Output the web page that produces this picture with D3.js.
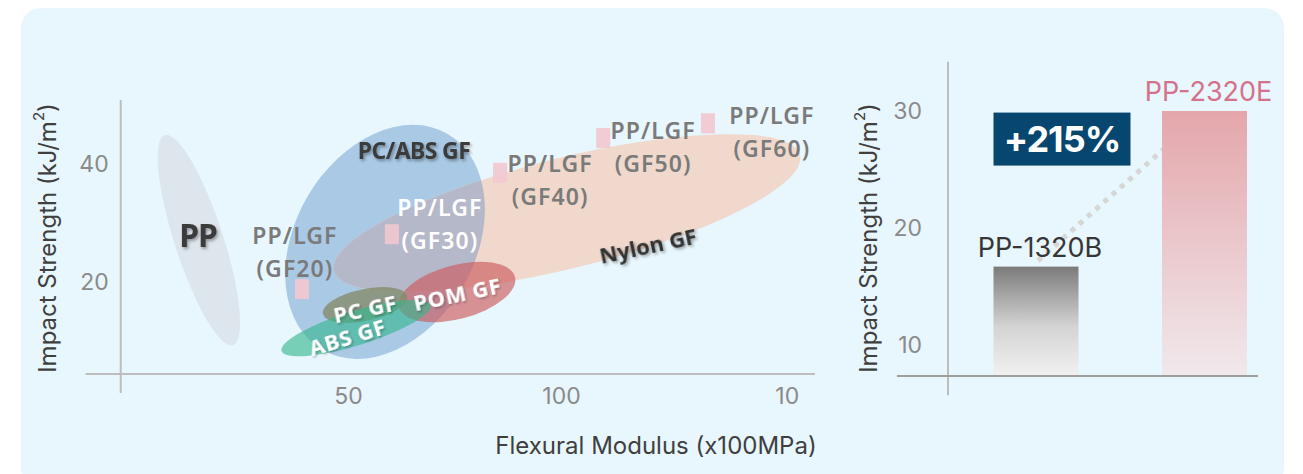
<!DOCTYPE html>
<html><head><meta charset="utf-8">
<script src="https://cdn.jsdelivr.net/npm/d3@7"></script>
<style>
html,body{margin:0;padding:0;background:#fff;}
svg{display:block;}
</style></head><body>
<svg id="chart" width="1303" height="474"></svg>
<script>
// ================= DATA =================
// Left chart: flexural modulus (x100MPa) vs impact strength (kJ/m2)
const leftXTicks = [50, 100, 153];
const leftXTickLabels = ["50", "100", "10"];
const leftYTicks = [20, 40];
const leftYTickLabels = ["20", "40"];

const gradeNames = ["GF20", "GF30", "GF40", "GF50", "GF60"];
const gradeModulus = [39.2, 60.3, 85.7, 109.9, 134.5];
const gradeImpact = [18.8, 28.1, 38.5, 44.4, 46.9];

const regionNames = ["PP", "PC/ABS GF", "Nylon GF", "POM GF", "PC GF", "ABS GF"];
const regionCenterModulus = [15.0, 58.7, 101.4, 75.6, 54.0, 51.9];
const regionCenterImpact = [27.1, 26.8, 31.7, 18.3, 16.1, 12.2];
const regionEndModulus = [7.0, 73.4, 156.1, 89.2, 63.9, 69.4];
const regionEndImpact = [44.9, 45.1, 41.5, 20.9, 17.6, 16.1];
const regionLabelModulus = [14.8, 65.5, 120.4, 75.6, 54.0, 49.8];
const regionLabelImpact = [28.0, 42.4, 26.3, 18.1, 15.6, 10.8];

// Right chart
const productNames = ["PP-1320B", "PP-2320E"];
const productImpact = [16.7, 30];
const rightYTicks = [10, 20, 30];
const increaseLabel = "+215%";

// ================= STYLE =================
const bg = "#e8f6fd";
const axisColor = "#bdbdbd";
const tickColor = "#8a8a8a";
const titleColor = "#3f3f3f";
const tickFont = "Inter, 'Noto Sans', sans-serif";
const labelFont = "'Noto Sans', 'Open Sans', sans-serif";

const regionStyle = {
  "PP":        {ryRatio: 0.22, fill: "#dde5ed", op: 1,    label: "#3b3b3b", size: 32, rot: 0,   ls: -1},
  "PC/ABS GF": {ryRatio: 0.72, fill: "#a9c9e5", op: 1,    label: "#3b3b3b", size: 23, rot: 0,   ls: -0.6},
  "Nylon GF":  {ryRatio: 0.23, fill: "#f0d9cc", op: 1,    label: "#333333", size: 22, rot: -12, ls: 0},
  "POM GF":    {ryRatio: 0.45, fill: "#cc5a5e", op: 0.65, label: "#ffffff", size: 22, rot: -12, ls: 0.6},
  "PC GF":     {ryRatio: 0.37, fill: "#848c6c", op: 0.8,  label: "#ffffff", size: 22, rot: -12, ls: 0.6},
  "ABS GF":    {ryRatio: 0.22, fill: "#34b68e", op: 0.62, label: "#ffffff", size: 22, rot: -17, ls: 0.6}
};
const overlapFill = "#b5b8c9";
// point label offsets (px) relative to marker
const gradeLabelOffset = {
  GF20: {dx: -7, dy: -54, color: "#7a7a7a"},
  GF30: {dx: 48, dy: -27, color: "#ffffff"},
  GF40: {dx: 50, dy: -10, color: "#7a7a7a"},
  GF50: {dx: 50, dy: -8,  color: "#7a7a7a"},
  GF60: {dx: 64, dy: -8,  color: "#7a7a7a"}
};

// ================= SVG =================
const svg = d3.select("#chart");
const defs = svg.append("defs");

// panel
svg.append("rect").attr("x", 21).attr("y", 8).attr("width", 1263).attr("height", 480)
  .attr("rx", 20).attr("fill", bg);

// shadow filters
const fDark = defs.append("filter").attr("id", "shDark").attr("x", "-20%").attr("y", "-40%").attr("width", "140%").attr("height", "180%");
fDark.append("feDropShadow").attr("dx", 1.5).attr("dy", 2).attr("stdDeviation", 1.4)
  .attr("flood-color", "#000").attr("flood-opacity", 0.35);
const fLight = defs.append("filter").attr("id", "shLight").attr("x", "-20%").attr("y", "-40%").attr("width", "140%").attr("height", "180%");
fLight.append("feDropShadow").attr("dx", 1).attr("dy", 1.5).attr("stdDeviation", 1)
  .attr("flood-color", "#000").attr("flood-opacity", 0.3);

// ---------- LEFT CHART ----------
const x = d3.scaleLinear().domain([0, 150]).range([135, 774]);
const y = d3.scaleLinear().domain([0, 50]).range([400, 105]);

const L = svg.append("g");

// axes lines (extents in data units)
L.append("line").attr("x1", x(-3.35)).attr("x2", x(-3.35)).attr("y1", y(50.85)).attr("y2", y(1.2))
  .attr("stroke", axisColor).attr("stroke-width", 2);
L.append("line").attr("x1", x(-11.6)).attr("x2", x(159.6)).attr("y1", y(4.4)).attr("y2", y(4.4))
  .attr("stroke", axisColor).attr("stroke-width", 2);

// ticks via d3 axes (domain/tick lines hidden)
const yAxis = L.append("g").attr("transform", `translate(${x(-3.35)},0)`)
  .call(d3.axisLeft(y).tickValues(leftYTicks).tickFormat((d, i) => leftYTickLabels[i]).tickSize(0).tickPadding(12));
const xAxis = L.append("g").attr("transform", `translate(0,${y(4.4)})`)
  .call(d3.axisBottom(x).tickValues(leftXTicks).tickFormat((d, i) => leftXTickLabels[i]).tickSize(0).tickPadding(14));
[yAxis, xAxis].forEach(a => {
  a.select(".domain").remove();
  a.selectAll("text").attr("fill", tickColor).attr("font-family", tickFont).attr("font-size", 23);
});

// regions
const regions = regionNames.map((n, i) => {
  const cx = x(regionCenterModulus[i]), cy = y(regionCenterImpact[i]);
  const ex = x(regionEndModulus[i]), ey = y(regionEndImpact[i]);
  const rx = Math.hypot(ex - cx, ey - cy);
  const ang = Math.atan2(ey - cy, ex - cx) * 180 / Math.PI;
  return {name: n, cx, cy, rx, ry: rx * regionStyle[n].ryRatio, ang,
          lx: x(regionLabelModulus[i]), ly: y(regionLabelImpact[i])};
});
const byName = Object.fromEntries(regions.map(r => [r.name, r]));

function ell(sel, r) {
  return sel.append("ellipse").attr("cx", 0).attr("cy", 0).attr("rx", r.rx).attr("ry", r.ry)
    .attr("transform", `translate(${r.cx},${r.cy}) rotate(${r.ang})`);
}

// clip for blue/orange overlap
const clip = defs.append("clipPath").attr("id", "clipBlue");
ell(clip, byName["PC/ABS GF"]);

const RG = L.append("g");
["PP", "PC/ABS GF", "Nylon GF"].forEach(n => {
  ell(RG, byName[n]).attr("fill", regionStyle[n].fill).attr("opacity", regionStyle[n].op);
});
ell(RG.append("g").attr("clip-path", "url(#clipBlue)"), byName["Nylon GF"]).attr("fill", overlapFill);
["POM GF", "PC GF", "ABS GF"].forEach(n => {
  ell(RG, byName[n]).attr("fill", regionStyle[n].fill).attr("opacity", regionStyle[n].op);
});

// grade markers
const grades = gradeNames.map((g, i) => ({g, px: x(gradeModulus[i]), py: y(gradeImpact[i])}));
L.selectAll("rect.grade").data(grades).join("rect").attr("class", "grade")
  .attr("x", d => d.px - 7).attr("y", d => d.py - 10).attr("width", 14).attr("height", 20)
  .attr("fill", "#f2c8cf").attr("opacity", 0.9);

// region labels
regions.forEach(r => {
  const s = regionStyle[r.name];
  L.append("text").attr("transform", `translate(${r.lx},${r.ly}) rotate(${s.rot})`)
    .attr("text-anchor", "middle").attr("dominant-baseline", "central")
    .attr("font-family", labelFont).attr("font-weight", 700).attr("font-size", s.size)
    .attr("letter-spacing", s.ls)
    .attr("fill", s.label).attr("filter", s.label === "#ffffff" ? "url(#shLight)" : "url(#shDark)")
    .text(r.name);
});

// grade labels
grades.forEach(d => {
  const o = gradeLabelOffset[d.g];
  const t = L.append("text").attr("text-anchor", "middle").attr("font-family", labelFont)
    .attr("font-weight", 600).attr("font-size", 23).attr("letter-spacing", 1.1).attr("fill", o.color);
  t.append("tspan").attr("x", d.px + o.dx).attr("y", d.py + o.dy).attr("dominant-baseline", "central").text("PP/LGF");
  t.append("tspan").attr("x", d.px + o.dx).attr("y", d.py + o.dy + 33).attr("dominant-baseline", "central").text(`(${d.g})`);
});

// axis titles
function yTitle(sel, cx) {
  const t = sel.append("text").attr("transform", `translate(${cx},${(y(50.85) + y(4.4)) / 2 + 1}) rotate(-90)`)
    .attr("text-anchor", "middle").attr("dominant-baseline", "central")
    .attr("font-family", tickFont).attr("font-size", 24).attr("fill", titleColor);
  t.append("tspan").text("Impact Strength (kJ/m");
  t.append("tspan").attr("font-size", 15).attr("dy", -9).text("2");
  t.append("tspan").attr("dy", 9).text(")");
}
yTitle(L, 47);

L.append("text").attr("x", 656).attr("y", 445).attr("text-anchor", "middle").attr("dominant-baseline", "central")
  .attr("font-family", tickFont).attr("font-size", 24).attr("fill", titleColor)
  .text("Flexural Modulus (x100MPa)");

// ---------- RIGHT CHART ----------
const yr = d3.scaleLinear().domain([10, 30]).range([345, 111]);
const xr = d3.scalePoint().domain(productNames).range([1036, 1204.5]);
const barW = 85;
const R = svg.append("g");
const rAxisX = 948, rBase = yr(7.35);

R.append("line").attr("x1", rAxisX).attr("x2", rAxisX).attr("y1", yr(34.2)).attr("y2", yr(5.7))
  .attr("stroke", axisColor).attr("stroke-width", 2);

const ryAxis = R.append("g").attr("transform", `translate(${rAxisX},0)`)
  .call(d3.axisLeft(yr).tickValues(rightYTicks).tickFormat(d3.format("d")).tickSize(0).tickPadding(26));
ryAxis.select(".domain").remove();
ryAxis.selectAll("text").attr("fill", tickColor).attr("font-family", tickFont).attr("font-size", 23);

// gradients
const g1 = defs.append("linearGradient").attr("id", "gGray").attr("x1", 0).attr("x2", 0).attr("y1", 0).attr("y2", 1);
g1.append("stop").attr("offset", "0%").attr("stop-color", "#7b7b7b");
g1.append("stop").attr("offset", "55%").attr("stop-color", "#d4d4d4");
g1.append("stop").attr("offset", "100%").attr("stop-color", "#f1f1f1");
const g2 = defs.append("linearGradient").attr("id", "gPink").attr("x1", 0).attr("x2", 0).attr("y1", 0).attr("y2", 1);
g2.append("stop").attr("offset", "0%").attr("stop-color", "#e4a6ab");
g2.append("stop").attr("offset", "100%").attr("stop-color", "#f0e9ec");
const barFills = ["url(#gGray)", "url(#gPink)"];
const labelColors = ["#363636", "#d4718b"];

// dotted connector (behind bars)
R.append("line")
  .attr("x1", xr(productNames[0]) + 2).attr("y1", yr(productImpact[0]) - 6)
  .attr("x2", xr(productNames[1])).attr("y2", yr(productImpact[1]) + 2)
  .attr("stroke", "#d6d6d6").attr("stroke-width", 5).attr("stroke-dasharray", "5 6");

R.selectAll("rect.bar").data(productNames).join("rect").attr("class", "bar")
  .attr("x", d => xr(d) - barW / 2).attr("width", barW)
  .attr("y", (d, i) => yr(productImpact[i])).attr("height", (d, i) => rBase - yr(productImpact[i]))
  .attr("fill", (d, i) => barFills[i]);

R.append("line").attr("x1", 897).attr("x2", 1258).attr("y1", rBase).attr("y2", rBase)
  .attr("stroke", "#9e9e9e").attr("stroke-width", 2);

R.selectAll("text.plabel").data(productNames).join("text").attr("class", "plabel")
  .attr("x", d => xr(d) + 4).attr("y", (d, i) => yr(productImpact[i]) - 10)
  .attr("text-anchor", "middle").attr("font-family", tickFont).attr("font-size", 27)
  .attr("fill", (d, i) => labelColors[i]).text(d => d);

// +215% box
const bx = xr(productNames[0]) - barW / 2;
R.append("rect").attr("x", bx).attr("y", yr(27.6) - 26.5).attr("width", 137).attr("height", 53).attr("fill", "#07476f");
R.append("text").attr("x", bx + 68.5).attr("y", yr(27.6)).attr("text-anchor", "middle").attr("dominant-baseline", "central")
  .attr("font-family", tickFont).attr("font-weight", 700).attr("font-size", 36).attr("letter-spacing", -1)
  .attr("fill", "#ffffff").text(increaseLabel);

// right y title
yTitle(R, 868);
</script>
</body></html>
